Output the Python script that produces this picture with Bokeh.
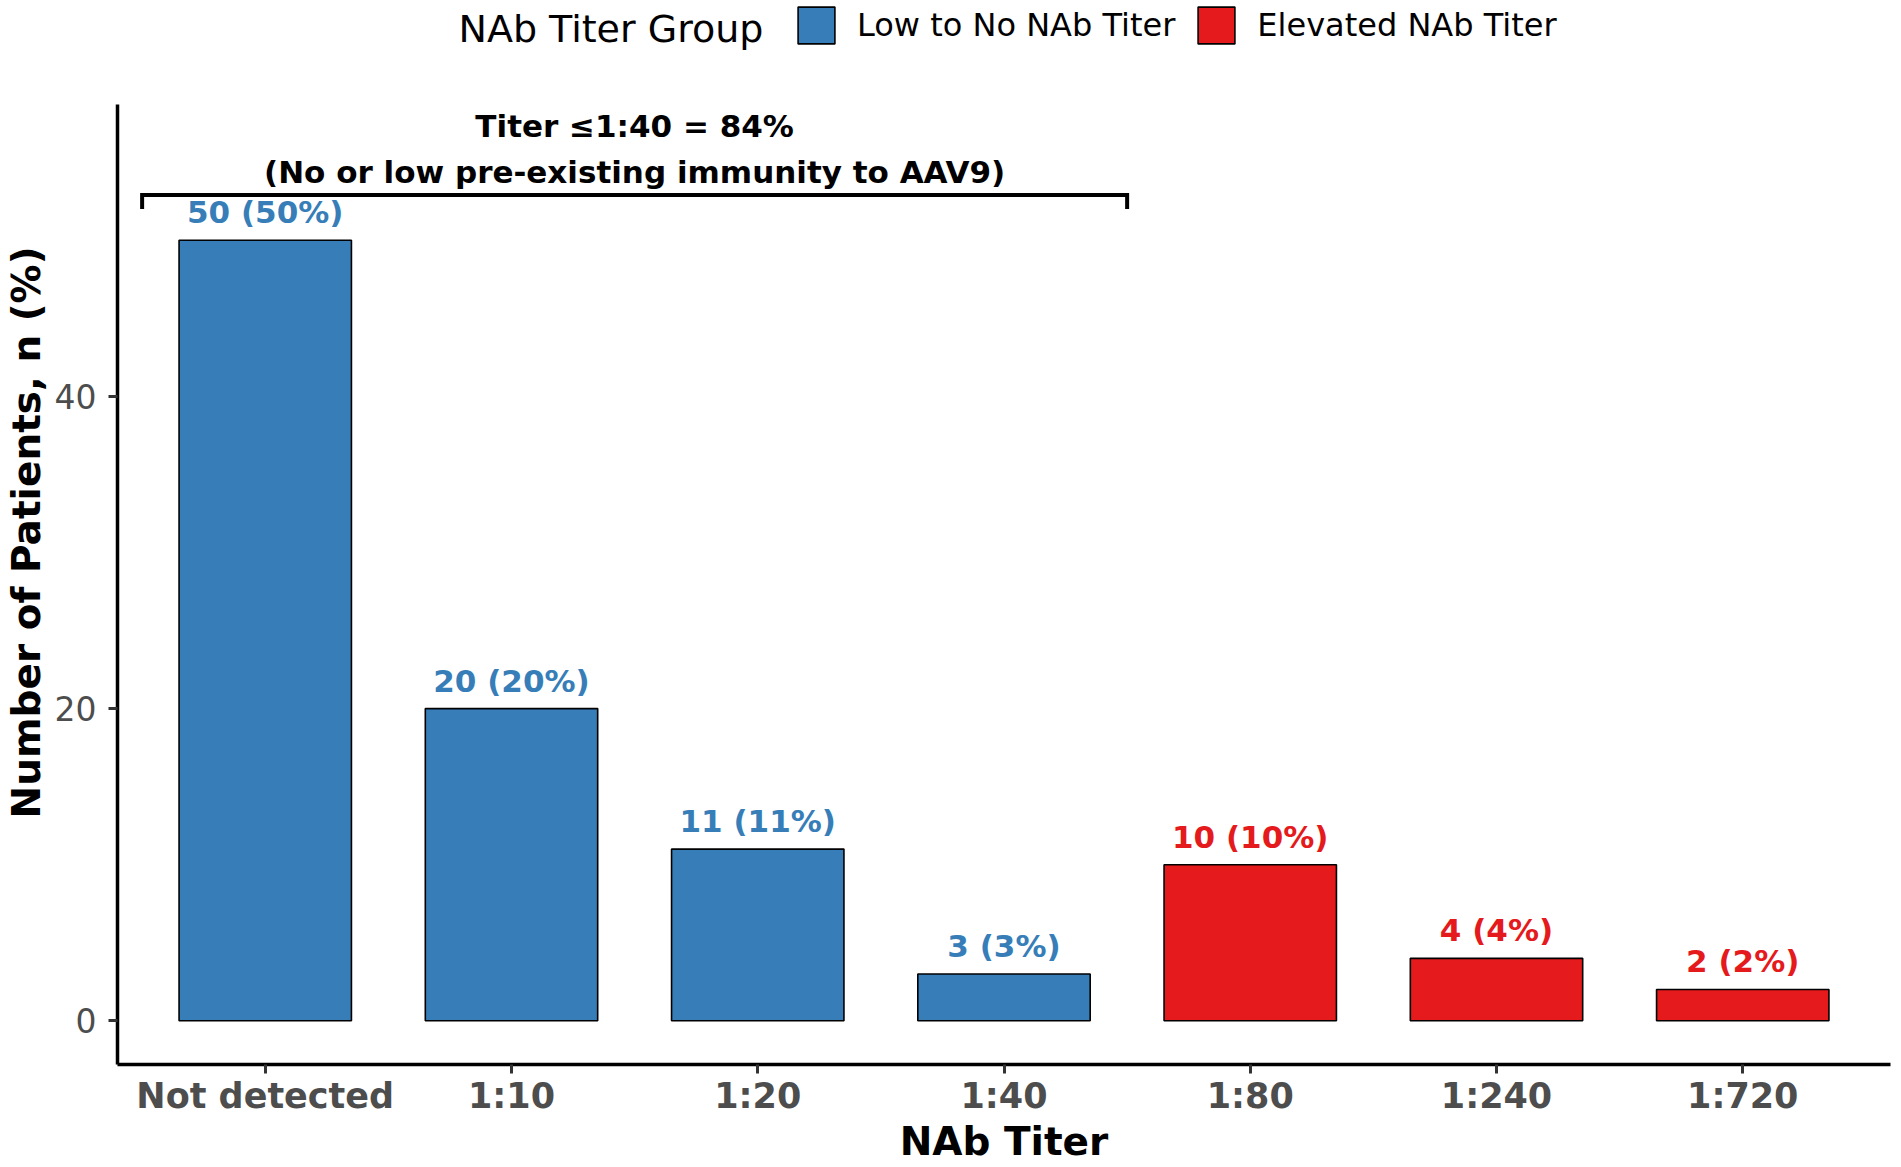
from bokeh.plotting import figure
from bokeh.models import (ColumnDataSource, Range1d, FixedTicker, Legend,
                          LegendItem, Label)
from bokeh.core.properties import value
from bokeh.embed import file_html
from bokeh.resources import INLINE

# data
titers = ["Not detected", "1:10", "1:20", "1:40", "1:80", "1:240", "1:720"]
patients = [50, 20, 11, 3, 10, 4, 2]
percents = [50, 20, 11, 3, 10, 4, 2]
groups = ["Low to No NAb Titer", "Low to No NAb Titer", "Low to No NAb Titer",
          "Low to No NAb Titer", "Elevated NAb Titer", "Elevated NAb Titer",
          "Elevated NAb Titer"]
group_names = ["Low to No NAb Titer", "Elevated NAb Titer"]
group_colors = ["#377EB8", "#E41A1C"]
y_ticks = [0, 20, 40]
bracket_lines = ["Titer \u22641:40 = 84%", "(No or low pre-existing immunity to AAV9)"]

FONT = "DejaVu Sans"
FRAME_H = 1064          # frame runs up to the top so the legend can sit in it
AXIS_TOP = 104          # px from top where the y axis line starts
Y_LO, Y_HI = -2.8, 58.7
k = (FRAME_H - AXIS_TOP) / (Y_HI - Y_LO)
y_top = Y_HI + AXIS_TOP / k
xs = [i + 1 for i in range(len(titers))]

p = figure(frame_width=1773, frame_height=FRAME_H,
           x_range=Range1d(0.4, 7.6), y_range=Range1d(Y_LO, y_top),
           output_backend="svg", toolbar_location=None,
           min_border_left=111, min_border_right=1,
           min_border_top=0, min_border_bottom=100)
p.xgrid.grid_line_color = None
p.ygrid.grid_line_color = None
p.outline_line_color = None
p.background_fill_color = "white"

# bars + value labels, one renderer per group (for the legend)
items = []
for name, color in zip(group_names, group_colors):
    idx = [i for i, g in enumerate(groups) if g == name]
    src = ColumnDataSource(data=dict(
        x=[xs[i] for i in idx],
        top=[patients[i] for i in idx],
        lab=["%d (%d%%)" % (patients[i], percents[i]) for i in idx],
        ly=[patients[i] + 1.8 for i in idx],
    ))
    r = p.vbar(x="x", top="top", bottom=0, width=0.7, source=src,
               fill_color=color, line_color="black", line_width=1.6)
    p.text(x="x", y="ly", text="lab", source=src, text_color=color,
           text_font=value(FONT), text_font_style="bold", text_font_size="31px",
           text_align="center", text_baseline="alphabetic")
    items.append(LegendItem(label=name, renderers=[r]))

# bracket over the low-titer group
low = [xs[i] for i, g in enumerate(groups) if g == group_names[0]]
bx0, bx1 = min(low) - 0.5, max(low) + 0.5
p.line(x=[bx0, bx0, bx1, bx1], y=[52.0, 52.9, 52.9, 52.0],
       line_color="black", line_width=4, line_join="miter")
p.text(x=[(bx0 + bx1) / 2] * 2, y=[57.3, 54.4], text=bracket_lines,
       text_color="black", text_font=value(FONT), text_font_style="bold",
       text_font_size="31px", text_align="center", text_baseline="middle")

# legend across the top (title drawn as a label to its left)
# legend swatches are drawn at 80% of the glyph box, hence 46px
legend = Legend(items=items, orientation="horizontal",
                location=(676, FRAME_H - 48),
                label_text_font=FONT, label_text_font_size="32px",
                label_text_color="black",
                label_standoff=18, spacing=18, glyph_width=46, glyph_height=46,
                padding=0, margin=0, border_line_color=None,
                background_fill_alpha=0)
p.add_layout(legend)
p.add_layout(Label(x=341, y=FRAME_H - 28, x_units="screen", y_units="screen",
                   text="NAb Titer Group", text_font=FONT, text_font_size="38px",
                   text_color="black", text_baseline="alphabetic"))

# axes
for ax in (p.xaxis[0], p.yaxis[0]):
    ax.axis_line_color = "black"
    ax.axis_line_width = 3.5
    ax.major_tick_line_color = "#333333"
    ax.major_tick_line_width = 3
    ax.major_tick_out = 9
    ax.major_tick_in = 0
    ax.minor_tick_line_color = None
    ax.major_label_text_color = "#4D4D4D"
    ax.major_label_text_font = FONT
    ax.axis_label_text_font = FONT
    ax.axis_label_text_font_style = "bold"
    ax.axis_label_text_color = "black"
    ax.axis_label_text_font_size = "39px"

p.xaxis.ticker = FixedTicker(ticks=xs)
p.xaxis.major_label_overrides = {x: t for x, t in zip(xs, titers)}
p.xaxis.major_label_text_font_style = "bold"
p.xaxis.major_label_text_font_size = "35px"
p.xaxis.major_label_standoff = 2
p.xaxis.axis_label_standoff = 0
p.xaxis.axis_label = "NAb Titer"

p.yaxis.ticker = FixedTicker(ticks=y_ticks)
p.yaxis.bounds = (Y_LO, Y_HI)
p.yaxis.major_label_text_font_size = "33px"
p.yaxis.major_label_standoff = 12
p.yaxis.axis_label_standoff = 3
p.yaxis.axis_label = "Number of Patients, n (%)"

open("out.html", "w", encoding="utf-8").write(file_html(p, INLINE))
